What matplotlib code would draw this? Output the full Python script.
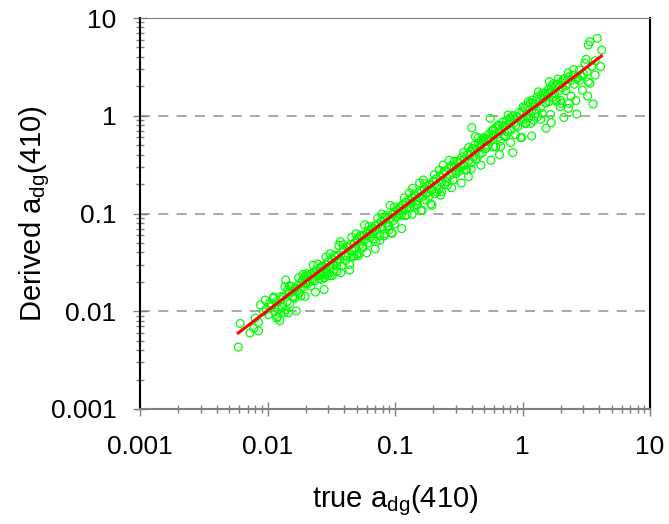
import matplotlib
matplotlib.use("Agg")
from matplotlib import pyplot as plt
from matplotlib import ticker

plt.rcParams['font.family'] = ['Liberation Sans', 'DejaVu Sans']
plt.rcParams['mathtext.fontset'] = 'custom'
plt.rcParams['mathtext.rm'] = 'Liberation Sans'
plt.rcParams['mathtext.it'] = 'Liberation Sans:italic'

# (true, derived) pairs
pts_low = [(0.0059, 0.0043), (0.0061, 0.0075), (0.0073, 0.0060), (0.0078, 0.0067),
           (0.0080, 0.0085), (0.0085, 0.0063), (0.0085, 0.0077), (0.0088, 0.0116),
           (0.0093, 0.0099), (0.0096, 0.0130), (0.0098, 0.0105), (0.0102, 0.0092),
           (0.0104, 0.0121), (0.0106, 0.0111)]

pts_001 = [(0.0108, 0.0118), (0.0111, 0.0136), (0.0114, 0.0098), (0.0117, 0.0124),
           (0.0120, 0.0088), (0.0122, 0.0105), (0.0125, 0.0080), (0.0127, 0.0131),
           (0.0130, 0.0112), (0.0133, 0.0142), (0.0136, 0.0097), (0.0139, 0.0103),
           (0.0139, 0.0209), (0.0142, 0.0125), (0.0144, 0.0165), (0.0147, 0.0150),
           (0.0150, 0.0120), (0.0153, 0.0180), (0.0156, 0.0158), (0.0160, 0.0140),
           (0.0163, 0.0136), (0.0166, 0.0172), (0.0170, 0.0160), (0.0174, 0.0185),
           (0.0178, 0.0153), (0.0181, 0.0170), (0.0184, 0.0193), (0.0188, 0.0205),
           (0.0192, 0.0178), (0.0196, 0.0226), (0.0202, 0.0243), (0.0200, 0.0195),
           (0.0112, 0.0140), (0.0118, 0.0085), (0.0126, 0.0141), (0.0131, 0.0109),
           (0.0137, 0.0178), (0.0145, 0.0096), (0.0149, 0.0182), (0.0158, 0.0142),
           (0.0162, 0.0170), (0.0168, 0.0101), (0.0176, 0.0220), (0.0183, 0.0143),
           (0.0190, 0.0238), (0.0197, 0.0142)]

pts_002 = [(0.0205, 0.0190), (0.021, 0.0225), (0.0215, 0.0200), (0.022, 0.0240),
           (0.0225, 0.0210), (0.023, 0.0250), (0.0235, 0.0205), (0.024, 0.0262),
           (0.0245, 0.0230), (0.025, 0.0245), (0.0255, 0.0215), (0.026, 0.0280),
           (0.0265, 0.0240), (0.0266, 0.0212), (0.027, 0.0290), (0.0275, 0.0255),
           (0.028, 0.0220), (0.0285, 0.0300), (0.029, 0.0270), (0.0295, 0.0245),
           (0.030, 0.0320), (0.031, 0.0285), (0.031, 0.0230), (0.032, 0.0340),
           (0.0325, 0.0300), (0.033, 0.0260), (0.034, 0.0360), (0.035, 0.0320),
           (0.035, 0.0255), (0.036, 0.0375), (0.037, 0.0340), (0.0373, 0.0515),
           (0.038, 0.0290), (0.039, 0.0420), (0.040, 0.0370), (0.041, 0.0330),
           (0.042, 0.0455), (0.043, 0.0390), (0.044, 0.0300), (0.045, 0.0480),
           (0.046, 0.0420), (0.047, 0.0360), (0.048, 0.0500), (0.049, 0.0445),
           (0.050, 0.0380),
           (0.0208, 0.0233), (0.0218, 0.0181), (0.0228, 0.0296), (0.0238, 0.0157),
           (0.0248, 0.0303), (0.0258, 0.0232), (0.0268, 0.0281), (0.0278, 0.0167),
           (0.0288, 0.0360), (0.0298, 0.0232), (0.0310, 0.0388), (0.0322, 0.0232),
           (0.0335, 0.0375), (0.0348, 0.0289), (0.0362, 0.0470), (0.0376, 0.0248),
           (0.0392, 0.0478), (0.0408, 0.0367), (0.0425, 0.0446), (0.0440, 0.0264),
           (0.0458, 0.0572), (0.0475, 0.0371), (0.0495, 0.0619)]

pts_005 = [(0.051, 0.055), (0.052, 0.0391), (0.053, 0.048), (0.054, 0.058),
           (0.055, 0.052), (0.056, 0.045), (0.057, 0.060), (0.058, 0.054),
           (0.060, 0.062), (0.061, 0.050), (0.062, 0.067), (0.063, 0.063),
           (0.064, 0.057), (0.066, 0.070), (0.067, 0.062), (0.068, 0.055),
           (0.070, 0.075), (0.071, 0.0515), (0.072, 0.068), (0.074, 0.078),
           (0.076, 0.053), (0.077, 0.072), (0.078, 0.083), (0.080, 0.070),
           (0.082, 0.086), (0.083, 0.062), (0.085, 0.080), (0.087, 0.092),
           (0.089, 0.075), (0.090, 0.068), (0.092, 0.090), (0.094, 0.0637),
           (0.095, 0.098), (0.097, 0.085), (0.099, 0.078), (0.100, 0.104),
           (0.0515, 0.0371), (0.0535, 0.0599), (0.0555, 0.0461), (0.0578, 0.0763),
           (0.0600, 0.0396), (0.0625, 0.0738), (0.0650, 0.0585), (0.0675, 0.0709),
           (0.0700, 0.0434), (0.0730, 0.0891), (0.0760, 0.0593), (0.0790, 0.0988),
           (0.0820, 0.0590), (0.0850, 0.0952), (0.0880, 0.0730), (0.0915, 0.1208),
           (0.0950, 0.0627), (0.0985, 0.1162)]

pts_01 = [(0.102, 0.092), (0.105, 0.110), (0.107, 0.100), (0.110, 0.118),
          (0.112, 0.096), (0.115, 0.122), (0.118, 0.108), (0.120, 0.095),
          (0.122, 0.130), (0.125, 0.115), (0.128, 0.138), (0.130, 0.112),
          (0.137, 0.181), (0.135, 0.128), (0.138, 0.145), (0.140, 0.118),
          (0.143, 0.152), (0.146, 0.132), (0.150, 0.122), (0.152, 0.160),
          (0.155, 0.145), (0.160, 0.107), (0.160, 0.170), (0.167, 0.220),
          (0.165, 0.150), (0.170, 0.178), (0.172, 0.138), (0.176, 0.165),
          (0.180, 0.190), (0.184, 0.150), (0.188, 0.200), (0.191, 0.125),
          (0.195, 0.175), (0.200, 0.212), (0.205, 0.160), (0.210, 0.225),
          (0.215, 0.190), (0.220, 0.175), (0.225, 0.240), (0.228, 0.154),
          (0.239, 0.313), (0.232, 0.210), (0.238, 0.255), (0.245, 0.200),
          (0.250, 0.270), (0.255, 0.230), (0.259, 0.195), (0.265, 0.290),
          (0.270, 0.245), (0.278, 0.310), (0.285, 0.220), (0.292, 0.300),
          (0.104, 0.0936), (0.108, 0.1134), (0.113, 0.0701), (0.118, 0.1440),
          (0.124, 0.0967), (0.130, 0.1625), (0.136, 0.0979), (0.142, 0.1590),
          (0.148, 0.1228), (0.156, 0.2059), (0.163, 0.1076), (0.171, 0.2018),
          (0.178, 0.1602), (0.186, 0.1953), (0.195, 0.1209), (0.204, 0.2489),
          (0.213, 0.1661), (0.222, 0.2775), (0.232, 0.1670), (0.243, 0.2722),
          (0.254, 0.2108), (0.266, 0.3511), (0.278, 0.1835), (0.290, 0.3422)]

pts_03 = [(0.300, 0.255), (0.305, 0.340), (0.310, 0.290), (0.318, 0.270),
          (0.325, 0.350), (0.330, 0.300), (0.338, 0.380), (0.345, 0.310),
          (0.352, 0.360), (0.358, 0.280), (0.365, 0.279), (0.370, 0.400),
          (0.376, 0.238), (0.380, 0.350), (0.400, 0.755), (0.390, 0.430),
          (0.398, 0.330), (0.405, 0.460), (0.412, 0.380), (0.420, 0.500),
          (0.427, 0.611), (0.432, 0.360), (0.440, 0.450), (0.450, 0.520),
          (0.458, 0.400), (0.466, 0.480), (0.475, 0.560), (0.484, 0.420),
          (0.493, 0.540), (0.502, 0.600), (0.512, 0.460), (0.522, 0.580),
          (0.535, 0.500), (0.545, 0.650), (0.558, 0.940), (0.560, 0.560),
          (0.575, 0.700), (0.590, 0.480), (0.600, 0.640), (0.615, 0.750),
          (0.660, 0.400), (0.640, 0.600), (0.655, 0.780), (0.670, 0.550),
          (0.685, 0.700), (0.700, 0.860), (0.715, 0.620), (0.730, 0.780),
          (0.750, 0.900), (0.765, 0.680), (0.780, 0.820), (0.840, 0.420),
          (0.800, 0.950), (0.820, 0.720), (0.840, 1.000), (0.860, 0.850),
          (0.880, 0.640), (0.900, 0.980), (0.920, 0.780), (0.945, 1.080),
          (0.970, 0.900), (0.990, 0.600),
          (0.303, 0.2727), (0.317, 0.3329), (0.331, 0.2052), (0.346, 0.4221),
          (0.362, 0.2824), (0.378, 0.4725), (0.395, 0.2844), (0.413, 0.4626),
          (0.432, 0.3586), (0.452, 0.5966), (0.472, 0.3115), (0.494, 0.5829),
          (0.516, 0.4644), (0.540, 0.5670), (0.565, 0.3503), (0.590, 0.7198),
          (0.617, 0.4813), (0.645, 0.8063), (0.675, 0.4860), (0.706, 0.7907),
          (0.738, 0.6125), (0.772, 1.0190), (0.807, 0.5326), (0.844, 0.9959),
          (0.883, 0.7947), (0.923, 0.9692), (0.965, 0.5983)]

pts_1 = [(1.00, 1.10), (1.02, 0.92), (1.04, 1.20), (1.06, 0.85), (1.08, 1.02),
         (1.10, 1.25), (1.12, 0.95), (1.15, 1.35), (1.18, 0.62), (1.18, 1.10),
         (1.20, 1.45), (1.22, 0.90), (1.25, 1.30), (1.28, 1.15), (1.30, 1.55),
         (1.32, 0.98), (1.35, 1.40), (1.38, 1.20), (1.40, 1.62), (1.43, 1.05),
         (1.46, 1.50), (1.50, 1.70), (1.53, 0.745), (1.53, 1.35), (1.56, 1.60),
         (1.60, 1.85), (1.62, 2.23), (1.62, 1.40), (1.65, 1.75), (1.68, 0.85),
         (1.68, 2.00), (1.72, 1.55), (1.75, 1.90), (1.78, 1.70), (1.82, 2.05),
         (1.85, 1.45), (1.90, 2.10), (1.95, 1.80), (1.97, 1.24), (2.02, 1.34),
         (2.00, 2.20), (2.05, 1.95), (2.11, 0.96), (2.15, 2.40), (2.20, 2.05),
         (2.29, 1.19), (2.33, 1.34), (2.30, 2.50), (2.40, 2.30), (2.50, 2.60),
         (2.55, 2.10), (2.62, 1.43), (2.66, 1.04), (2.70, 2.45), (2.80, 2.30),
         (2.90, 2.55), (3.00, 2.70), (3.15, 3.78), (3.09, 3.43), (3.21, 2.82),
         (3.28, 2.23), (3.38, 2.15), (3.24, 1.59), (3.58, 1.32), (3.50, 3.20),
         (3.71, 3.66), (3.71, 2.61), (4.10, 3.18), (4.18, 4.71), (3.86, 6.19),
         (3.38, 5.73), (3.28, 5.30),
         (1.01, 1.232), (1.06, 0.827), (1.11, 1.388), (1.16, 0.835), (1.21, 1.355),
         (1.27, 1.054), (1.33, 1.756), (1.39, 0.917), (1.45, 1.711), (1.52, 1.368),
         (1.59, 1.670), (1.66, 1.029), (1.74, 2.123), (1.82, 1.420), (1.90, 2.375),
         (1.99, 1.433), (2.08, 2.330), (2.18, 1.809), (2.28, 2.750), (2.40, 1.584),
         (2.52, 2.974), (2.65, 2.385), (2.80, 2.940), (2.95, 1.829)]

# 1:1 fit line end points
fit_true = [0.0059, 4.15]
fit_derived = [0.0060, 4.08]

tick_vals = [0.001, 0.01, 0.1, 1, 10]
tick_labels = ['0.001', '0.01', '0.1', '1', '10']

all_pts = pts_low + pts_001 + pts_002 + pts_005 + pts_01 + pts_03 + pts_1
true_adg = [p[0] for p in all_pts]
derived_adg = [p[1] for p in all_pts]

fig = plt.figure(figsize=(6.69, 5.24), dpi=100)
ax = fig.add_axes([140/669, 1 - 409/524, 510/669, 391/524])

ax.scatter(true_adg, derived_adg, s=32, facecolors='none', edgecolors='#00ff00',
           linewidths=0.9, zorder=3)
ax.plot(fit_true, fit_derived, color='red', lw=2.2, zorder=4)

ax.set_xscale('log')
ax.set_yscale('log')
ax.set_xlim(0.001, 10)
ax.set_ylim(0.001, 10)

ax.set_xticks(tick_vals)
ax.set_xticklabels(tick_labels)
ax.set_yticks(tick_vals)
ax.set_yticklabels(tick_labels)
ax.xaxis.set_minor_locator(ticker.LogLocator(base=10, subs=range(2, 10)))
ax.yaxis.set_minor_locator(ticker.LogLocator(base=10, subs=range(2, 10)))
ax.xaxis.set_minor_formatter(ticker.NullFormatter())
ax.yaxis.set_minor_formatter(ticker.NullFormatter())

ax.tick_params(which='major', direction='inout', length=10, width=1, color='#808080',
               labelsize=19, pad=14)
ax.tick_params(which='minor', direction='inout', length=6, width=1, color='#808080')
ax.tick_params(axis='y', which='major', pad=12)

ax.yaxis.grid(True, which='major', ls=(0, (6, 5)), color='#999999', lw=1.2)
ax.set_axisbelow(True)

for side in ['left', 'right']:
    ax.spines[side].set_color('black')
    ax.spines[side].set_linewidth(1.5)
ax.spines['top'].set_color('#808080')
ax.spines['bottom'].set_color('#808080')
ax.spines['bottom'].set_linewidth(1.5)

ax.set_xlabel(r'true a$_{\rm dg}$(410)', fontsize=21, labelpad=17)
ax.set_ylabel(r'Derived a$_{\rm dg}$(410)', fontsize=21, labelpad=-1)

fig.savefig('out.png', dpi=100)
